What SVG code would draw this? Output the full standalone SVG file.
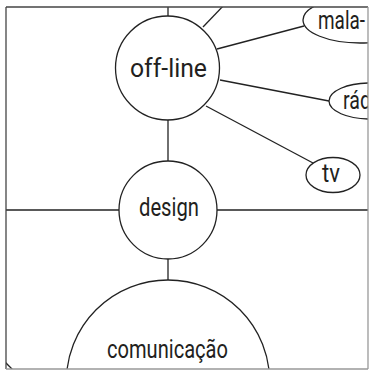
<svg xmlns="http://www.w3.org/2000/svg" width="369" height="370" viewBox="0 0 369 370">
<style>
.n{fill:#fff;stroke:#222;stroke-width:1.3}
.c{stroke:#222;stroke-width:1.3;fill:none}
.t{font-family:Roboto,"Liberation Sans",sans-serif;font-size:26px;fill:#231f20;text-anchor:middle}
.s{font-family:Roboto,"Liberation Sans",sans-serif;font-size:25px;fill:#231f20}
</style>
<defs><clipPath id="cp"><rect x="6" y="7" width="362" height="362"/></clipPath></defs>
<rect width="369" height="370" fill="#fff"/>
<g clip-path="url(#cp)">
<g id="connectors">
<line class="c" x1="168" y1="0" x2="168" y2="16"/>
<line class="c" x1="226" y1="3" x2="203" y2="27"/>
<line class="c" x1="217" y1="49" x2="304" y2="26"/>
<line class="c" x1="220" y1="80" x2="329" y2="101"/>
<line class="c" x1="206" y1="106" x2="313" y2="163"/>
<line class="c" x1="168" y1="120" x2="168" y2="161"/>
<line class="c" x1="0" y1="210" x2="119" y2="210"/>
<line class="c" x1="217" y1="210" x2="369" y2="210"/>
<line class="c" x1="168" y1="259" x2="168" y2="280"/>
<line class="c" x1="4" y1="361" x2="14" y2="371"/>
</g>
<g id="off-line"><circle class="n" cx="167.5" cy="68" r="52"/><text class="t" x="168.5" y="77" textLength="77" lengthAdjust="spacingAndGlyphs">off-line</text></g>
<g id="design"><circle class="n" cx="168" cy="210" r="49"/><text class="t" x="169" y="216" textLength="60" lengthAdjust="spacingAndGlyphs">design</text></g>
<g id="comunicacao"><circle class="n" cx="168" cy="381.7" r="101.7"/><text class="t" x="167.5" y="358" textLength="121" lengthAdjust="spacingAndGlyphs">comunicação</text></g>
<g id="mala"><ellipse class="n" cx="360" cy="20" rx="57" ry="23"/><text class="s" x="318" y="29" textLength="47" lengthAdjust="spacingAndGlyphs">mala-</text></g>
<g id="radio"><ellipse class="n" cx="370" cy="101" rx="41" ry="18"/><text class="s" x="343" y="109" textLength="28" lengthAdjust="spacingAndGlyphs">rád</text></g>
<g id="tv"><ellipse class="n" cx="333" cy="175" rx="27" ry="17.5"/><text class="s" x="322" y="182" textLength="18" lengthAdjust="spacingAndGlyphs">tv</text></g>
</g>
<line x1="6" y1="7" x2="368" y2="7" stroke="#444" stroke-width="1.3"/>
<line x1="6" y1="7" x2="6" y2="369" stroke="#444" stroke-width="1.3"/>
<line x1="368" y1="7" x2="368" y2="369" stroke="#999" stroke-width="1.3"/>
<line x1="6" y1="369" x2="368" y2="369" stroke="#999" stroke-width="1.3"/>
</svg>
